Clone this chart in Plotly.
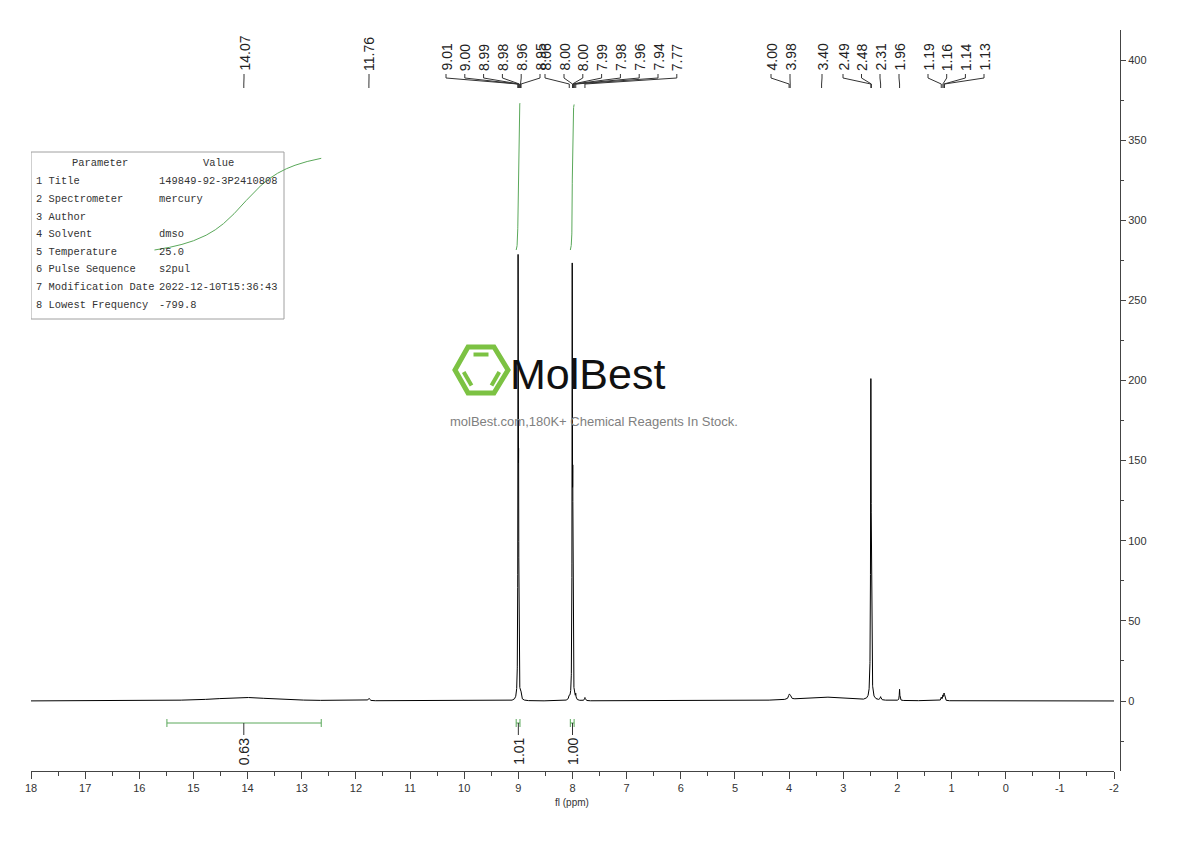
import numpy as np
import plotly.graph_objects as go

# ---------------- data ----------------
peak_ppm    = [14.07, 11.76, 9.005, 8.995, 8.96, 8.95, 8.06, 8.005, 7.995, 7.96, 7.94, 7.77,
               4.00, 3.98, 3.40, 2.49, 2.48, 2.31, 1.96, 1.19, 1.16, 1.14, 1.13]
peak_height = [2.2, 1.5, 262, 120, 4, 3, 2, 258, 110, 4, 3, 2,
               2.5, 2.0, 2.5, 190, 40, 2, 7, 2, 3, 3.5, 2.5]
peak_fwhm   = [1.3, 0.03, 0.008, 0.008, 0.01, 0.01, 0.02, 0.008, 0.008, 0.01, 0.01, 0.02,
               0.03, 0.03, 1.0, 0.012, 0.012, 0.02, 0.012, 0.015, 0.015, 0.015, 0.015]

label_texts = ["14.07", "11.76", "9.01", "9.00", "8.99", "8.98", "8.96", "8.95", "8.06",
               "8.00", "8.00", "7.99", "7.98", "7.96", "7.94", "7.77", "4.00", "3.98",
               "3.40", "2.49", "2.48", "2.31", "1.96", "1.19", "1.16", "1.14", "1.13"]

integral_values = [0.63, 1.01, 1.00]
integral_from   = [15.49, 9.04, 8.04]
integral_to     = [12.64, 8.97, 7.97]
integral_center = [14.07, 9.00, 8.00]
curve_from      = [15.72, 9.04, 8.04]
curve_to        = [12.64, 8.97, 7.97]

x_ticks = list(range(18, -3, -1))
x_ticktext = [str(v) for v in x_ticks]
x_minor = [v + 0.5 for v in range(17, -3, -1)]
y_ticks = list(range(0, 401, 50))
y_ticktext = [str(v) for v in y_ticks]
y_minor = list(range(-25, 400, 50))

param_header = ["Parameter", "Value"]
param_names = ["1 Title", "2 Spectrometer", "3 Author", "4 Solvent", "5 Temperature",
               "6 Pulse Sequence", "7 Modification Date", "8 Lowest Frequency"]
param_values = ["149849-92-3P2410808", "mercury", "", "dmso", "25.0", "s2pul",
                "2022-12-10T15:36:43", "-799.8"]

# ---------------- layout helpers (page pixel -> axis units) ----------------
PX_L, PX_R = 31, 1114
X_HI, X_LO = 18, -2
PY0, PY_PER = 701, 1.6025


def X(px):
    return X_HI - (px - PX_L) * (X_HI - X_LO) / (PX_R - PX_L)


def Y(py):
    return (PY0 - py) / PY_PER


label_px = [244, 369, 446, 464.8, 483.6, 502.4, 521.2, 540, 545,
            564, 582.8, 601.6, 620.4, 639.2, 658, 676.8, 771, 790,
            822, 843, 861.5, 880, 899, 928, 946.7, 965.4, 984]

LABEL_FONT = "'Liberation Sans', Arial, sans-serif"
TICK_FONT = "'Liberation Sans', Arial, sans-serif"
MONO = "'Liberation Mono', 'Courier New', monospace"
GREEN = "#5aa85a"
INK = "#333333"

# ---------------- spectrum ----------------
xs = np.linspace(X_HI, X_LO, 40001)
spec = np.zeros_like(xs)
for p, h, w in zip(peak_ppm, peak_height, peak_fwhm):
    spec += h / (1.0 + ((xs - p) / (w / 2.0)) ** 2)

fig = go.Figure()
fig.add_trace(go.Scatter(x=xs, y=spec, mode="lines",
                         line=dict(color="black", width=1), hoverinfo="skip", showlegend=False))

# integral curves
base = Y(250)
scale = (Y(103) - Y(250)) / 1.01
for v, a, b in zip(integral_values, curve_from, curve_to):
    m = (xs <= a) & (xs >= b)
    seg_x = xs[m]
    seg_y = spec[m]
    cum = np.cumsum(seg_y)
    cum = (cum - cum[0]) / (cum[-1] - cum[0])
    fig.add_trace(go.Scatter(x=seg_x, y=base + v * scale * cum, mode="lines",
                             line=dict(color=GREEN, width=1), hoverinfo="skip", showlegend=False))

shapes = []
annotations = []

# peak labels + connector lines
for t, lp in zip(label_texts, label_px):
    pp = float(t)
    lx = X(lp)
    path = f"M {lx},{Y(74)} L {lx},{Y(78)} L {pp},{Y(84)} L {pp},{Y(88)}"
    shapes.append(dict(type="path", xref="x", yref="y", path=path,
                       line=dict(color=INK, width=1)))
    annotations.append(dict(x=lx, y=Y(73), xref="x", yref="y", text=t, showarrow=False,
                            textangle=-90, xanchor="center", yanchor="bottom",
                            font=dict(family=LABEL_FONT, size=14, color="#222")))

# integration bars & labels
for v, a, b, c in zip(integral_values, integral_from, integral_to, integral_center):
    yb = Y(723)
    shapes.append(dict(type="line", xref="x", yref="y", x0=a, x1=b, y0=yb, y1=yb,
                       line=dict(color=GREEN, width=1)))
    for e in (a, b):
        shapes.append(dict(type="line", xref="x", yref="y", x0=e, x1=e, y0=Y(719), y1=Y(727),
                           line=dict(color=GREEN, width=1)))
    shapes.append(dict(type="line", xref="x", yref="y", x0=c, x1=c, y0=yb, y1=Y(735),
                       line=dict(color=INK, width=1)))
    annotations.append(dict(x=c, y=Y(736), xref="x", yref="y", text=f"{v:.2f}",
                            showarrow=False, textangle=-90, xanchor="center", yanchor="top",
                            font=dict(family=LABEL_FONT, size=14, color="#222")))

# parameter table
TF = 10.4
shapes.append(dict(type="rect", xref="x", yref="y", x0=X(31), x1=X(284), y0=Y(152), y1=Y(319),
                   line=dict(color="#a0a0a0", width=1), layer="below"))
annotations.append(dict(x=X(100), y=Y(163), xref="x", yref="y", text=param_header[0],
                        showarrow=False, xanchor="center", yanchor="middle",
                        font=dict(family=MONO, size=TF, color=INK)))
annotations.append(dict(x=X(218), y=Y(163), xref="x", yref="y", text=param_header[1],
                        showarrow=False, xanchor="center", yanchor="middle",
                        font=dict(family=MONO, size=TF, color=INK)))
row_y = [181, 199, 217, 234, 252, 269, 287, 305]
for nm, vl, ry in zip(param_names, param_values, row_y):
    annotations.append(dict(x=X(34), y=Y(ry), xref="x", yref="y", text=nm, showarrow=False,
                            xanchor="left", yanchor="middle",
                            font=dict(family=MONO, size=TF, color=INK)))
    if vl:
        annotations.append(dict(x=X(157), y=Y(ry), xref="x", yref="y", text=vl, showarrow=False,
                                xanchor="left", yanchor="middle",
                                font=dict(family=MONO, size=TF, color=INK)))

# watermark logo
LOGO = "#7cc243"
hexpts = [(455, 370), (468, 347), (494, 347), (508, 370), (494, 393), (468, 393)]
hpath = "M " + " L ".join(f"{X(a)},{Y(b)}" for a, b in hexpts) + " Z"
shapes.append(dict(type="path", xref="x", yref="y", path=hpath, line=dict(color=LOGO, width=5),
                   layer="below"))
for (x0, y0, x1, y1) in [(473.5, 354.5, 488.5, 354.5), (463.7, 372, 471.5, 385.5),
                         (499.3, 372, 491.5, 385.5)]:
    shapes.append(dict(type="line", xref="x", yref="y", x0=X(x0), y0=Y(y0), x1=X(x1), y1=Y(y1),
                       line=dict(color=LOGO, width=4), layer="below"))
annotations.append(dict(x=X(587), y=Y(374), xref="x", yref="y", text="MolBest", showarrow=False,
                        xanchor="center", yanchor="middle",
                        font=dict(family="'Liberation Sans', Arial, sans-serif", size=43,
                                  color="#111")))
annotations.append(dict(x=X(594), y=Y(421), xref="x", yref="y",
                        text="molBest.com,180K+ Chemical Reagents In Stock.", showarrow=False,
                        xanchor="center", yanchor="middle",
                        font=dict(family=LABEL_FONT, size=13, color="#808080")))

# ---------------- figure geometry (page has an 8px body margin) ----------------
BODY = 8
W, H = 1190 - 2 * BODY, 841 - 2 * BODY
ML = PX_L - BODY            # plot left at page x=31
MT = 30 - BODY              # plot top at page y=30
MB = (BODY + H) - 771       # x axis at page y=771
MR = (BODY + W) - 1130      # paper right edge at page x=1130
pw = W - ML - MR
ph = H - MT - MB

# axis title
annotations.append(dict(x=X(572), y=(771 - 802) / ph, xref="x", yref="paper", text="fl (ppm)",
                        showarrow=False, xanchor="center", yanchor="middle",
                        font=dict(family=TICK_FONT, size=10, color=INK)))

fig.update_layout(
    width=W, height=H,
    margin=dict(l=ML, r=MR, t=MT, b=MB, pad=0),
    paper_bgcolor="white", plot_bgcolor="white",
    shapes=shapes, annotations=annotations, showlegend=False,
    xaxis=dict(domain=[0, (PX_R - PX_L) / pw], range=[X_HI, X_LO], showgrid=False, zeroline=False,
               showline=True, linecolor="#444", linewidth=1, ticks="outside", ticklen=7,
               tickcolor="#444", tickmode="array", tickvals=x_ticks, ticktext=x_ticktext,
               tickfont=dict(family=TICK_FONT, size=11, color=INK),
               minor=dict(tickvals=x_minor, ticks="outside", ticklen=4, tickcolor="#444")),
    yaxis=dict(anchor="free", position=(1120 - PX_L) / pw, side="right",
               range=[Y(771), Y(30)], showgrid=False, zeroline=False,
               showline=True, linecolor="#444", linewidth=1, ticks="outside", ticklen=5,
               tickcolor="#444", tickmode="array", tickvals=y_ticks, ticktext=y_ticktext,
               tickfont=dict(family=TICK_FONT, size=11, color=INK),
               minor=dict(tickvals=y_minor, ticks="outside", ticklen=3, tickcolor="#444")),
)

fig.write_html("out.html")
